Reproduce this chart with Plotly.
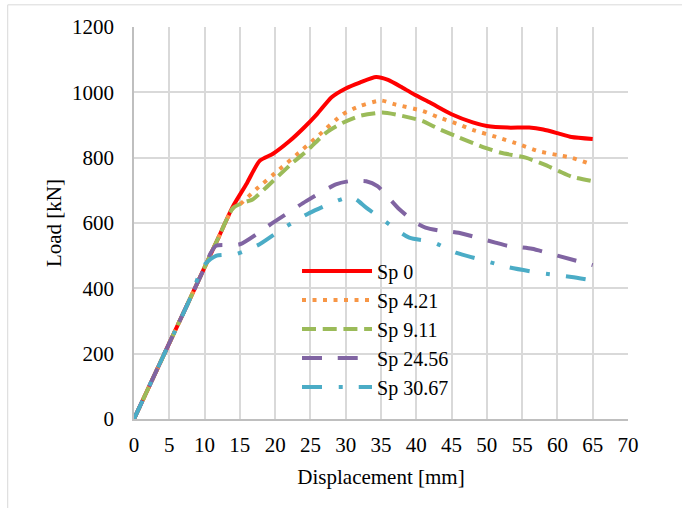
import plotly.graph_objects as go

# ---- data ----
sp0_x = [0, 5, 10, 12, 14, 16, 17.8, 19.7, 22, 24, 26, 28, 30, 32, 34.3, 36, 38, 40, 42, 45, 48, 50, 53, 56, 58, 60, 62, 65]
sp0_y = [0, 232, 464, 557, 650, 722, 790, 812, 850, 890, 935, 985, 1012, 1030, 1047, 1038, 1015, 990, 968, 933, 908, 897, 892, 892, 886, 875, 863, 857]

sp421_x = [0, 5, 10, 12, 14, 15, 17.3, 20.6, 23.9, 26.3, 29.6, 32, 35, 37, 40.9, 43, 46, 48, 51.7, 54, 57.3, 60, 62, 65]
sp421_y = [0, 232, 464, 557, 645, 657, 703, 764, 825, 871, 933, 958, 975, 963, 943, 925, 902, 885, 861, 845, 820, 808, 800, 778]

sp911_x = [0, 5, 10, 12, 14, 15.4, 16.8, 18.7, 22.5, 24.2, 27.2, 29.6, 32, 35.2, 38, 40.9, 43, 45.6, 49.8, 52, 55.5, 58, 60.2, 62, 65]
sp911_y = [0, 232, 464, 557, 645, 662, 672, 708, 785, 815, 876, 907, 928, 938, 928, 912, 890, 866, 830, 815, 800, 780, 759, 742, 728]

sp2456_x = [0, 4, 8, 10, 10.8, 11.6, 15, 19.7, 24.4, 28.6, 30.5, 32.9, 34.5, 37.6, 40, 41.3, 43, 46, 51.2, 53, 56.4, 60, 65]
sp2456_y = [0, 186, 371, 464, 505, 530, 535, 601, 667, 718, 728, 728, 713, 642, 600, 586, 578, 570, 540, 530, 521, 500, 471]

sp3067_x = [0, 4, 8, 9.8, 11.7, 14.5, 17.8, 21.3, 24.9, 28.1, 30.5, 31.5, 32.9, 35.2, 39, 42.3, 45.6, 49.8, 53, 57.3, 62, 64]
sp3067_y = [0, 186, 371, 468, 500, 505, 535, 586, 631, 662, 680, 672, 647, 611, 555, 542, 509, 484, 465, 448, 435, 428]

names = ["Sp 0", "Sp 4.21", "Sp 9.11", "Sp 24.56", "Sp 30.67"]
colors = ["#FF0000", "#F79646", "#9BBB59", "#8064A2", "#4BACC6"]
dashes = ["solid", "4px,6.5px", "14px,6.7px", "20px,15.7px", "20px,16.7px,4px,16px"]
xs = [sp0_x, sp421_x, sp911_x, sp2456_x, sp3067_x]
ys = [sp0_y, sp421_y, sp911_y, sp2456_y, sp3067_y]

x_ticks = list(range(0, 71, 5))
y_ticks = list(range(0, 1201, 200))

FONT = "Liberation Serif"

fig = go.Figure()
for i in range(5):
    fig.add_trace(go.Scatter(
        x=xs[i], y=ys[i], name=names[i], mode="lines",
        line=dict(color=colors[i], width=4, dash=dashes[i], shape="spline", smoothing=0.6),
        legendgroup=names[i],
    ))

fig.update_layout(
    width=682, height=508,
    margin=dict(l=133.5, r=53.7, t=26.7, b=89),
    paper_bgcolor="white", plot_bgcolor="white",
    font=dict(family=FONT, size=21, color="black"),
    showlegend=True,
    legend=dict(x=0.33, y=0.427, xanchor="left", yanchor="top",
                bgcolor="rgba(0,0,0,0)", itemwidth=70, tracegroupgap=0,
                font=dict(family=FONT, size=20, color="black")),
    xaxis=dict(range=[0, 70], tickvals=x_ticks, ticktext=[str(v) for v in x_ticks],
               showgrid=True, gridcolor="#d9d9d9", gridwidth=1.5,
               showline=True, linecolor="#bfbfbf", linewidth=1.5, mirror=False,
               zeroline=False, ticks="", ticklabelstandoff=6,
               tickfont=dict(family=FONT, size=21),
               title=dict(text="Displacement [mm]", font=dict(family=FONT, size=21), standoff=13)),
    yaxis=dict(range=[0, 1200], tickvals=y_ticks, ticktext=[str(v) for v in y_ticks],
               showgrid=True, gridcolor="#d9d9d9", gridwidth=1.5,
               showline=True, linecolor="#bfbfbf", linewidth=1.5,
               zeroline=False, ticks="", ticklabelstandoff=14,
               tickfont=dict(family=FONT, size=21),
               title=dict(text="Load [kN]", font=dict(family=FONT, size=21), standoff=5)),
    shapes=[dict(type="rect", xref="paper", yref="paper",
                 x0=(7 - 133.5) / 494.8, x1=1.3, y0=-0.4, y1=(419 - 4.5) / 392.3,
                 line=dict(color="#d9d9d9", width=1), fillcolor="rgba(0,0,0,0)", layer="below")],
)

fig.write_html("out.html")
